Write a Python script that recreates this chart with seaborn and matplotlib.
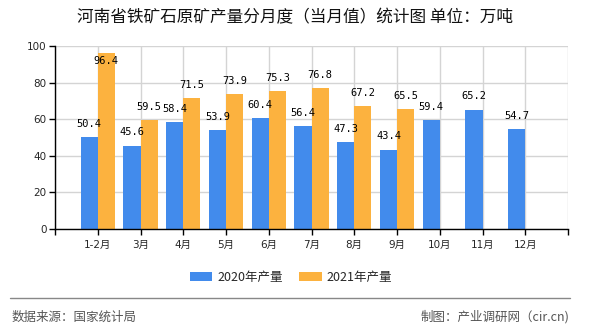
import matplotlib
matplotlib.use("Agg")
import matplotlib.pyplot as plt
import seaborn as sns
import pandas as pd
from matplotlib.patches import Patch
from matplotlib.lines import Line2D

months = ["1-2月", "3月", "4月", "5月", "6月", "7月", "8月", "9月", "10月", "11月", "12月"]
values_2020 = [50.4, 45.6, 58.4, 53.9, 60.4, 56.4, 47.3, 43.4, 59.4, 65.2, 54.7]
values_2021 = [96.4, 59.5, 71.5, 73.9, 75.3, 76.8, 67.2, 65.5]
series = ["2020年产量", "2021年产量"]
colors = ["#428BEC", "#FCB23F"]
title = "河南省铁矿石原矿产量分月度（当月值）统计图 单位：万吨"
source = "数据来源：国家统计局"
credit = "制图：产业调研网（cir.cn)"

rows = []
for m, v in zip(months, values_2020):
    rows.append((m, series[0], v))
for m, v in zip(months, values_2021):
    rows.append((m, series[1], v))
df = pd.DataFrame(rows, columns=["month", "series", "value"])

sns.set_theme(style="white")
plt.rcParams['font.family'] = ['Noto Sans CJK SC', 'DejaVu Sans']

W, H = 590, 330
fig = plt.figure(figsize=(W / 100, H / 100), dpi=100)
ax = fig.add_axes([55 / W, 1 - 229 / H, (568 - 55) / W, (229 - 46) / H])

sns.barplot(data=df, x="month", y="value", hue="series", order=months,
            hue_order=series, palette=colors, width=0.8, saturation=1,
            ax=ax, legend=False, errorbar=None, linewidth=0, edgecolor="none")

ax.set_xlim(-1, 11)
ax.set_ylim(0, 100)
ax.set_yticks([0, 20, 40, 60, 80, 100])
ax.set_xticks(range(-1, 12))
ax.set_xticklabels([""] + months + [""])
ax.set_xlabel("")
ax.set_ylabel("")
ax.grid(True, color="#d4d4d4", linewidth=1)
ax.set_axisbelow(True)
for s in ["top", "right"]:
    ax.spines[s].set_visible(False)
for s in ["left", "bottom"]:
    ax.spines[s].set_color("black")
    ax.spines[s].set_linewidth(1)
ax.tick_params(axis="both", which="major", length=4, width=1, color="black",
               labelsize=7.5, pad=2, bottom=True, left=True)
ax.tick_params(axis="x", pad=4)
for lab in ax.get_xticklabels() + ax.get_yticklabels():
    lab.set_fontfamily(['DejaVu Sans', 'Noto Sans CJK SC'])

# data labels
for p in ax.patches:
    h = p.get_height()
    if h != h or h == 0:
        continue
    x = p.get_x() + p.get_width() / 2
    if h > 90:
        off = -6
    else:
        off = 9.5
    ax.annotate(f"{h:.1f}", (x, h), xytext=(0, off), textcoords="offset points",
                ha="center", va="center", fontsize=7.5,
                fontfamily="DejaVu Sans Mono", color="black")

fig.text(0.5, 1 - 18 / H, title, ha="center", va="center", fontsize=12,
         color="#111111")

handles = [Patch(facecolor=c, edgecolor="none") for c in colors]
fig.legend(handles, series, loc="center", bbox_to_anchor=(291 / W, 1 - 277 / H),
           ncol=2, frameon=False, fontsize=9, handlelength=1.8,
           handleheight=0.75, handletextpad=0.4, columnspacing=1.3)

fig.add_artist(Line2D([10 / W, 570 / W], [1 - 298 / H, 1 - 298 / H],
                      color="#888888", linewidth=1, transform=fig.transFigure))
fig.text(12 / W, 1 - 317 / H, source, ha="left", va="center", fontsize=9,
         color="#555555")
fig.text(569 / W, 1 - 317 / H, credit, ha="right", va="center", fontsize=9,
         color="#555555")

fig.savefig("out.png", dpi=100)
